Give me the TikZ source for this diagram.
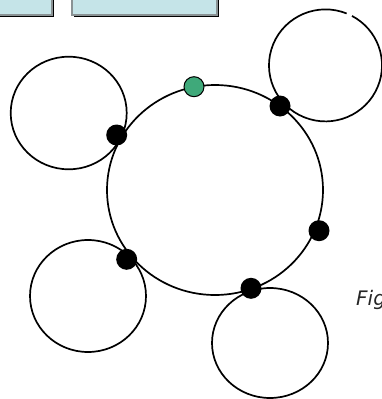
\documentclass[tikz,border=0pt]{standalone}
\usepackage{fontspec}
\newfontfamily\capfont{DejaVu Sans}
\definecolor{boxfill}{HTML}{C5E4E8}
\definecolor{boxedge}{HTML}{8A9294}
\definecolor{headdot}{HTML}{3FA97A}
\begin{document}
\begin{tikzpicture}[x=1pt,y=-1pt,
  ring/.style={line width=1.7pt},
  joint/.style={circle,fill=black,inner sep=0pt,minimum size=21pt},
  head/.style={circle,fill=headdot,draw=black,line width=1pt,inner sep=0pt,minimum size=20pt},
  panel/.style={fill=boxfill,draw=boxedge,line width=1.3pt},
  panelshadow/.style={fill=black}]
\useasboundingbox (0,0) rectangle (382,399);
% toolbar boxes along the top edge
\fill[panelshadow] (-5,-5) rectangle (53.5,16.5);
\draw[panel] (-5,-5) rectangle (52,15);
\fill[panelshadow] (73.5,-5) rectangle (218.5,16.5);
\draw[panel] (72,-5) rectangle (217,15);
% central ring
\coordinate (hub) at (215,190);
\draw[ring] (hub) ellipse [x radius=108pt, y radius=105pt];
% satellite rings
\coordinate (tl) at (68.7,113);
\coordinate (tr) at (325.5,65.4);
\coordinate (bl) at (88,296);
\coordinate (br) at (270,343);
\draw[ring] (tl) ellipse [x radius=58pt, y radius=56.3pt];
\draw[ring] (bl) ellipse [x radius=58pt, y radius=56pt];
\draw[ring] (br) ellipse [x radius=58pt, y radius=55pt];
\draw[ring] (tr) ++(68:56.5pt and 56pt)
  arc[start angle=68, end angle=422, x radius=56.5pt, y radius=56pt];
% joints on the central ring
\node[joint] (j1) at (116.7,135) {};
\node[joint] (j2) at (280,106) {};
\node[joint] (j3) at (319,230.7) {};
\node[joint] (j4) at (126.7,259.3) {};
\node[joint] (j5) at (251,288.3) {};
\node[head] (start) at (194,86.7) {};
% caption
\node[anchor=base west,inner sep=0pt,text=black!85] (cap) at (356,305)
  {\capfont\itshape\fontsize{20}{24}\selectfont Fig};
\end{tikzpicture}
\end{document}
